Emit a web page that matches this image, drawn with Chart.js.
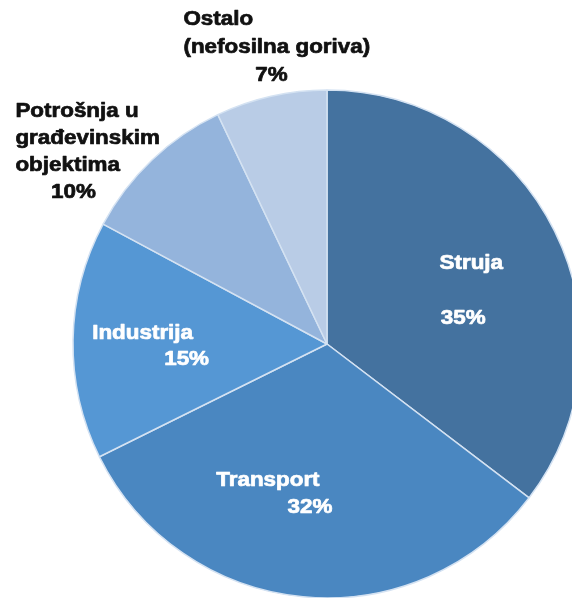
<!DOCTYPE html>
<html>
<head>
<meta charset="utf-8">
<script src="https://cdn.jsdelivr.net/npm/chart.js@4"></script>
<style>
  html, body { margin: 0; padding: 0; overflow: hidden; background: #fff; }
  #pie { position: absolute; left: 0; top: 0; }
</style>
</head>
<body>
<canvas id="pie" width="654" height="688"></canvas>
<script>
// data
const categories = ["Struja", "Transport", "Industrija", "Potrošnja u građevinskim objektima", "Ostalo (nefosilna goriva)"];
const shares = [35, 32, 15, 10, 7];
const nameLines = [["Struja"], ["Transport"], ["Industrija"], ["Potrošnja u", "građevinskim", "objektima"], ["Ostalo", "(nefosilna goriva)"]];
const sliceColors = ["#44729f", "#4a87c1", "#5597d4", "#94b4dc", "#b9cce6"];

// label placement: anchor at dist * radius along the slice middle, then per-line nudges
const labelStyle = [
  { dist: 0.59, color: "#ffffff", lines: [{ dx: 10, dy: -14, align: "center" }, { dx: 2, dy: 41, align: "center" }] },
  { dist: 0.5, color: "#ffffff", lines: [{ dx: -47, dy: 10, align: "center" }, { dx: -5, dy: 37, align: "center" }] },
  { dist: 0.6, color: "#ffffff", lines: [{ dx: -32, dy: -8, align: "center" }, { dx: 12, dy: 18, align: "center" }] },
  { dist: 1.15, color: "#111111", lines: [{ dx: -110, dy: -21, align: "left" }, { dx: -110, dy: 6, align: "left" }, { dx: -110, dy: 33, align: "left" }, { dx: -52, dy: 60, align: "center" }] },
  { dist: 1.1, color: "#111111", lines: [{ dx: -82, dy: -52, align: "left" }, { dx: -82, dy: -24, align: "left" }, { dx: 6, dy: 4, align: "center" }] }
];

const sliceLabels = {
  id: "sliceLabels",
  afterDatasetsDraw(chart) {
    const ctx = chart.ctx;
    const arcs = chart.getDatasetMeta(0).data;
    ctx.save();
    ctx.font = "bold 20px 'Liberation Sans', Arial, sans-serif";
    ctx.textBaseline = "middle";
    ctx.lineJoin = "round";
    arcs.forEach(function (arc, i) {
      const p = arc.getProps(["x", "y", "startAngle", "endAngle", "outerRadius"], true);
      const mid = (p.startAngle + p.endAngle) / 2;
      const ax = p.x + Math.cos(mid) * p.outerRadius * labelStyle[i].dist;
      const ay = p.y + Math.sin(mid) * p.outerRadius * labelStyle[i].dist;
      const texts = nameLines[i].concat([shares[i] + "%"]);
      ctx.fillStyle = labelStyle[i].color;
      ctx.strokeStyle = labelStyle[i].color;
      ctx.lineWidth = 0.7;
      texts.forEach(function (t, j) {
        const ln = labelStyle[i].lines[j];
        ctx.save();
        ctx.translate(ax + ln.dx, ay + ln.dy);
        ctx.scale(1.12, 1); // the source text is a bit wide
        ctx.textAlign = ln.align;
        ctx.fillText(t, 0, 0);
        ctx.strokeText(t, 0, 0); // heavier strokes like the original
        ctx.restore();
      });
    });
    ctx.restore();
  }
};

const ctx = document.getElementById("pie").getContext("2d");
new Chart(ctx, {
  type: "pie",
  data: {
    labels: categories,
    datasets: [
      {
        data: shares,
        backgroundColor: sliceColors,
        borderColor: "#d4e2f2",
        borderWidth: 1.5
      }
    ]
  },
  options: {
    responsive: false,
    animation: false,
    events: [],
    radius: 254,
    layout: { padding: 0 },
    plugins: {
      legend: { display: false },
      tooltip: { enabled: false }
    }
  },
  plugins: [sliceLabels]
});
</script>
</body>
</html>
